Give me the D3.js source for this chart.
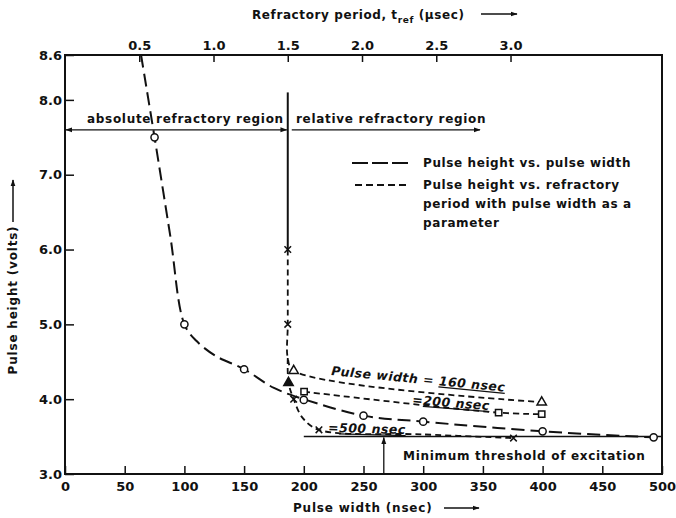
<!DOCTYPE html>
<html>
<head>
<meta charset="utf-8">
<script src="https://cdn.jsdelivr.net/npm/d3@7"></script>
<style>
body{margin:0;background:#fff}
svg text{font-family:"DejaVu Sans",sans-serif;fill:#111;font-weight:bold}
</style>
</head>
<body>
<svg id="svg" width="676" height="518"></svg>
<script>
// ticks
const widthTicks = [0, 50, 100, 150, 200, 250, 300, 350, 400, 450, 500];
const periodTicks = [0.5, 1.0, 1.5, 2.0, 2.5, 3.0];
const heightTicks = [3.0, 4.0, 5.0, 6.0, 7.0, 8.0, 8.6];

// pulse height vs pulse width (nsec, volts)
const mainWidth  = [63.7, 75, 88, 100, 110, 126, 150, 175, 200, 250, 300, 400, 493];
const mainHeight = [8.6, 7.5, 6.2, 5.0, 4.78, 4.58, 4.4, 4.15, 4.0, 3.78, 3.7, 3.57, 3.49];
const circleWidth  = [75, 100, 150, 200, 250, 300, 400, 493];
const circleHeight = [7.5, 5.0, 4.4, 3.99, 3.78, 3.7, 3.57, 3.49];

// pulse height vs refractory period (usec, volts)
const ref160Period = [1.5, 1.5, 1.5, 1.54, 3.21];
const ref160Height = [6.0, 5.0, 4.55, 4.38, 3.96];
const ref200Period = [1.61, 2.92, 3.21];
const ref200Height = [4.10, 3.82, 3.80];
const ref500Period = [1.5, 1.505, 1.54, 1.6, 1.71, 2.4, 3.02];
const ref500Height = [4.55, 4.22, 4.0, 3.75, 3.59, 3.53, 3.48];
const crossPeriod = [1.5, 1.5, 1.54, 1.71, 3.02];
const crossHeight = [6.0, 5.0, 4.0, 3.59, 3.48];
const triPeriod = [1.54, 3.21];
const triHeight = [4.38, 3.96];
const filledTriPeriod = [1.505];
const filledTriHeight = [4.22];

const boundaryPeriod = 1.5;
const boundaryTop = 8.1;
const regionHeight = 7.6;
const thresholdHeight = 3.5;
const thresholdStart = 200;
const thresholdArrowWidth = 267;

const svg_el = document.getElementById('svg');
const svg = d3.select(svg_el);

const x = d3.scaleLinear().domain([0, 500]).range([65, 662]);
const t = d3.scaleLinear().domain([0, 4.02]).range([65, 662]);
const y = d3.scaleLinear().domain([3.0, 8.6]).range([474, 55]);

// arrowheads
const defs = svg.append('defs');
defs.append('marker').attr('id', 'arr')
	.attr('viewBox', '0 0 10 10').attr('refX', 9).attr('refY', 5)
	.attr('markerWidth', 7).attr('markerHeight', 7).attr('orient', 'auto-start-reverse')
	.attr('markerUnits', 'userSpaceOnUse')
	.append('path').attr('d', 'M0,1.5 L10,5 L0,8.5 Z').attr('fill', '#111');

// axes
const gx = svg.append('g').attr('transform', 'translate(0,474)')
	.call(d3.axisBottom(x).tickValues(widthTicks).tickSize(-8).tickPadding(8).tickFormat(d3.format('d')));
const gy = svg.append('g').attr('transform', 'translate(65,0)')
	.call(d3.axisLeft(y).tickValues(heightTicks).tickSize(-9).tickPadding(3).tickFormat(d3.format('.1f')));
const gt = svg.append('g').attr('transform', 'translate(0,55)')
	.call(d3.axisTop(t).tickValues(periodTicks).tickSize(-7).tickPadding(5).tickFormat(d3.format('.1f')));
[gx, gy, gt].forEach(g => {
	g.select('.domain').remove();
	g.selectAll('line').attr('stroke', '#111').attr('stroke-width', 1.5);
	g.selectAll('text').style('font-size', '13px').attr('fill', '#111');
});

svg.append('rect').attr('x', 65).attr('y', 55).attr('width', 597).attr('height', 419)
	.attr('fill', 'none').attr('stroke', '#111').attr('stroke-width', 2);

// axis titles
const title = svg.append('text').attr('x', 252).attr('y', 19).style('font-size', '12px').style('letter-spacing', '0.6px');
title.append('tspan').text('Refractory period, t');
title.append('tspan').attr('dy', 4).style('font-size', '9px').text('ref');
title.append('tspan').attr('dy', -4).text(' (\u03bcsec)');
svg.append('line').attr('x1', 481).attr('x2', 517).attr('y1', 14).attr('y2', 14)
	.attr('stroke', '#111').attr('stroke-width', 1.5).attr('marker-end', 'url(#arr)');

svg.append('text').attr('x', 293).attr('y', 512).style('font-size', '12px').style('letter-spacing', '0.8px')
	.text('Pulse width (nsec)');
svg.append('line').attr('x1', 444).attr('x2', 479).attr('y1', 508).attr('y2', 508)
	.attr('stroke', '#111').attr('stroke-width', 1.5).attr('marker-end', 'url(#arr)');

svg.append('text').attr('transform', 'translate(17,300) rotate(-90)').attr('text-anchor', 'middle')
	.style('font-size', '12px').style('letter-spacing', '0.8px').text('Pulse height (volts)');
svg.append('line').attr('x1', 13).attr('x2', 13).attr('y1', 222).attr('y2', 180)
	.attr('stroke', '#111').attr('stroke-width', 1.5).attr('marker-end', 'url(#arr)');

// region boundary and arrows
svg.append('line').attr('x1', t(boundaryPeriod)).attr('x2', t(boundaryPeriod))
	.attr('y1', y(boundaryTop)).attr('y2', y(6.0)).attr('stroke', '#111').attr('stroke-width', 2);
svg.append('line').attr('x1', 66).attr('x2', t(boundaryPeriod) - 1)
	.attr('y1', y(regionHeight)).attr('y2', y(regionHeight))
	.attr('stroke', '#111').attr('stroke-width', 1.3)
	.attr('marker-start', 'url(#arr)').attr('marker-end', 'url(#arr)');
svg.append('line').attr('x1', t(boundaryPeriod) + 4).attr('x2', 480)
	.attr('y1', y(regionHeight)).attr('y2', y(regionHeight))
	.attr('stroke', '#111').attr('stroke-width', 1.3).attr('marker-end', 'url(#arr)');
svg.append('text').attr('x', 87).attr('y', 123).style('font-size', '12px').style('letter-spacing', '0.7px')
	.text('absolute refractory region');
svg.append('text').attr('x', 296).attr('y', 123).style('font-size', '12px').style('letter-spacing', '0.7px')
	.text('relative refractory region');

// threshold
svg.append('line').attr('x1', x(thresholdStart)).attr('x2', x(500))
	.attr('y1', y(thresholdHeight)).attr('y2', y(thresholdHeight)).attr('stroke', '#111').attr('stroke-width', 1.5);
svg.append('line').attr('x1', x(thresholdArrowWidth)).attr('x2', x(thresholdArrowWidth))
	.attr('y1', y(3.0)).attr('y2', y(thresholdHeight) + 1)
	.attr('stroke', '#111').attr('stroke-width', 1.3).attr('marker-end', 'url(#arr)');
svg.append('text').attr('x', 403).attr('y', 460).style('font-size', '12px').style('letter-spacing', '0.7px')
	.text('Minimum threshold of excitation');

// curves
const zip = (a, b) => a.map((v, i) => [v, b[i]]);
const lineW = d3.line().x(d => x(d[0])).y(d => y(d[1])).curve(d3.curveCatmullRom.alpha(0.5));
const lineT = d3.line().x(d => t(d[0])).y(d => y(d[1])).curve(d3.curveCatmullRom.alpha(0.5));

svg.append('path').attr('d', lineW(zip(mainWidth, mainHeight)))
	.attr('fill', 'none').attr('stroke', '#111').attr('stroke-width', 2).attr('stroke-dasharray', '13,6');

[[ref160Period, ref160Height], [ref200Period, ref200Height], [ref500Period, ref500Height]].forEach(s => {
	svg.append('path').attr('d', lineT(zip(s[0], s[1])))
		.attr('fill', 'none').attr('stroke', '#111').attr('stroke-width', 1.8).attr('stroke-dasharray', '6,4');
});

// markers
svg.selectAll('.circ').data(zip(circleWidth, circleHeight)).enter().append('circle')
	.attr('cx', d => x(d[0])).attr('cy', d => y(d[1])).attr('r', 3.6)
	.attr('fill', '#fff').attr('stroke', '#111').attr('stroke-width', 1.5);
const crossSym = d3.symbol().type(d3.symbolX).size(30);
svg.selectAll('.cross').data(zip(crossPeriod, crossHeight)).enter().append('path')
	.attr('d', crossSym).attr('transform', d => `translate(${t(d[0])},${y(d[1])})`)
	.attr('fill', 'none').attr('stroke', '#111').attr('stroke-width', 1.5);
const triSym = d3.symbol().type(d3.symbolTriangle).size(38);
svg.selectAll('.tri').data(zip(triPeriod, triHeight)).enter().append('path')
	.attr('d', triSym).attr('transform', d => `translate(${t(d[0])},${y(d[1])})`)
	.attr('fill', '#fff').attr('stroke', '#111').attr('stroke-width', 1.5);
svg.selectAll('.ftri').data(zip(filledTriPeriod, filledTriHeight)).enter().append('path')
	.attr('d', triSym).attr('transform', d => `translate(${t(d[0])},${y(d[1])})`)
	.attr('fill', '#111').attr('stroke', '#111').attr('stroke-width', 1.5);
const sqSym = d3.symbol().type(d3.symbolSquare).size(40);
svg.selectAll('.sq').data(zip(ref200Period, ref200Height)).enter().append('path')
	.attr('d', sqSym).attr('transform', d => `translate(${t(d[0])},${y(d[1])})`)
	.attr('fill', '#fff').attr('stroke', '#111').attr('stroke-width', 1.5);

// curve labels
const lab = (tx, ty, rot, parts) => {
	const el = svg.append('text').attr('transform', `translate(${tx},${ty}) rotate(${rot})`)
		.style('font-size', '12.5px').style('font-style', 'italic').style('letter-spacing', '0.5px');
	parts.forEach(p => {
		const sp = el.append('tspan').text(p[0]);
		if (p[1]) sp.style('text-decoration', 'underline');
	});
};
lab(331, 375, 5.5, [['Pulse width = ', false], ['160 nsec', true]]);
lab(412, 404, 4.5, [['=', false], ['200 nsec', true]]);
lab(328, 432, 1.5, [['=', false], ['500 nsec', true]]);

// legend
svg.append('line').attr('x1', 352).attr('x2', 408).attr('y1', 163).attr('y2', 163)
	.attr('stroke', '#111').attr('stroke-width', 2).attr('stroke-dasharray', '16,4');
svg.append('line').attr('x1', 355).attr('x2', 408).attr('y1', 185).attr('y2', 185)
	.attr('stroke', '#111').attr('stroke-width', 1.8).attr('stroke-dasharray', '7,4');
const legendLines = ['Pulse height vs. pulse width', 'Pulse height vs. refractory', 'period with pulse width as a', 'parameter'];
const legendY = [167, 189, 208, 227];
legendLines.forEach((s, i) => {
	svg.append('text').attr('x', 423).attr('y', legendY[i]).style('font-size', '12px').style('letter-spacing', '0.6px').text(s);
});
</script>
</body>
</html>
